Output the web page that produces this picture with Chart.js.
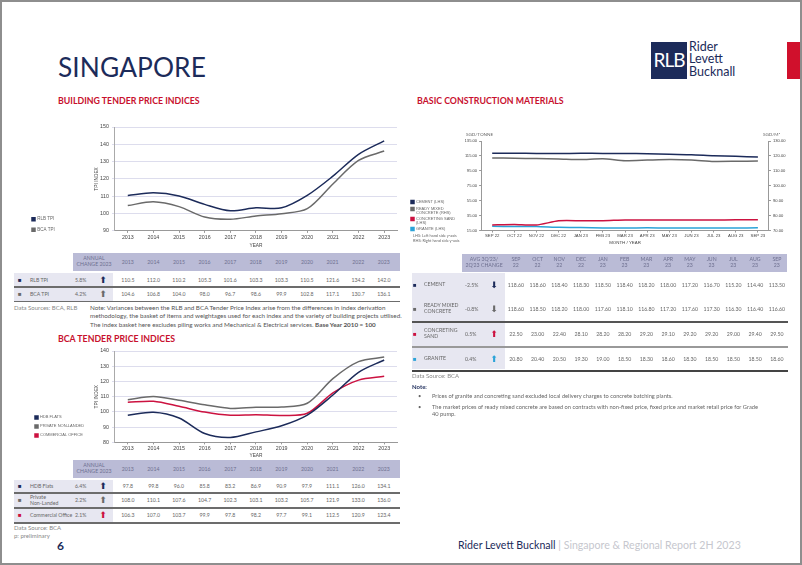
<!DOCTYPE html>
<html lang="en">
<head>
<meta charset="UTF-8">
<title>Singapore</title>
<style>
    html, body { margin: 0; padding: 0; }
    body {
        width: 802px; height: 565px; position: relative; overflow: hidden;
        background: #fff; font-family: 'Lato', 'Liberation Sans', sans-serif; color: #666;
    }
    .abs { position: absolute; }
    .frame { left: 0; top: 0; width: 798px; height: 561px; border: 2px solid #8e8e8e; }
    .country { left: 58px; top: 52px; font-size: 26.3px; color: #1c2b5a; letter-spacing: 0.1px; line-height: 30px; }
    .sect { font-size: 8.8px; font-weight: 700; color: #c8102e; line-height: 10px; white-space: nowrap; }
    .t { font-size: 5.2px; line-height: 6px; white-space: nowrap; color: #666; }
    .c { text-align: center; }
    .hd { color: #6e7090; }
    .note { font-size: 6.3px; line-height: 8.4px; color: #555; white-space: nowrap; }
    canvas { position: absolute; }
</style>
</head>
<body>
<div class="abs frame"></div>

<div class="abs country">SINGAPORE</div>

<!-- logo -->
<div class="abs" style="left:651px;top:42px;width:36px;height:37px;background:#1c2b5a;"></div>
<div class="abs" style="left:651px;top:50px;width:36px;text-align:center;color:#fff;font-size:19px;line-height:20px;letter-spacing:-1px;">RLB</div>
<div class="abs" style="left:689px;top:41px;font-size:12.5px;line-height:12.3px;color:#1c2b5a;">Rider<br>Levett<br>Bucknall</div>
<div class="abs" style="left:787px;top:42px;width:13px;height:37px;background:#d0102c;"></div>

<div class="abs sect" style="left:58px;top:96px;">BUILDING TENDER PRICE INDICES</div>
<div class="abs sect" style="left:417px;top:96px;">BASIC CONSTRUCTION MATERIALS</div>
<div class="abs sect" style="left:58px;top:334px;">BCA TENDER PRICE INDICES</div>

<canvas id="tpi" width="382" height="135" style="left:20px;top:118px;"></canvas>
<canvas id="mat" width="392" height="120" style="left:408px;top:128px;"></canvas>
<canvas id="bca" width="382" height="116" style="left:20px;top:343px;"></canvas>

<div class="abs t" style="left:466px;top:131px;font-size:4.6px;">SGD/TONNE</div>
<div class="abs t" style="left:763px;top:131px;font-size:4.6px;">SGD/M³</div>
<div class="abs t" style="left:413px;top:234px;font-size:3.9px;line-height:4.6px;">LHS: Left hand side y-axis<br>RHS: Right hand side y-axis</div>

<div id="tables"></div>

<div class="abs t" style="left:14px;top:305px;font-size:6px;color:#888;">Data Sources: BCA, RLB</div>
<div class="abs note" style="left:90px;top:304px;">Note: Variances between the RLB and BCA Tender Price Index arise from the differences in index derivation<br>methodology, the basket of items and weightages used for each index and the variety of building projects utilised.<br>The index basket here excludes piling works and Mechanical &amp; Electrical services. <b>Base Year 2010 = 100</b></div>

<div class="abs t" style="left:14px;top:524px;font-size:6px;line-height:8px;color:#888;">Data Source: BCA<br>p: preliminary</div>

<div class="abs t" style="left:412px;top:373px;font-size:6px;color:#888;">Data Source: BCA</div>
<div class="abs t" style="left:412px;top:384px;font-size:6px;font-weight:700;color:#1c2b5a;">Note:</div>
<div class="abs t" style="left:418px;top:393px;font-size:5.7px;">•</div>
<div class="abs t" style="left:432px;top:393px;font-size:5.7px;">Prices of granite and concreting sand excluded local delivery charges to concrete batching plants.</div>
<div class="abs t" style="left:418px;top:404px;font-size:5.7px;">•</div>
<div class="abs t" style="left:432px;top:404px;font-size:5.7px;line-height:6.5px;">The market prices of ready mixed concrete are based on contracts with non-fixed price, fixed price and market retail price for Grade<br>40 pump.</div>

<div class="abs" style="left:57px;top:538px;font-size:12px;font-weight:700;color:#1c2b5a;">6</div>
<div class="abs" style="left:458px;top:539px;font-size:10.6px;white-space:nowrap;color:#1c2b5a;">Rider Levett Bucknall <span style="color:#c6c7ce;">| Singapore &amp; Regional Report 2H 2023</span></div>

<script src="https://cdn.jsdelivr.net/npm/chart.js@4.4.1/dist/chart.umd.min.js"></script>
<script>
// building tender price indices
const tpiYears = ['2013', '2014', '2015', '2016', '2017', '2018', '2019', '2020', '2021', '2022', '2023'];
const rlbTpi = [110.5, 112.0, 110.2, 105.3, 101.6, 103.3, 103.3, 110.5, 121.6, 134.2, 142.0];
const bcaTpi = [104.6, 106.8, 104.0, 98.0, 96.7, 98.6, 99.9, 102.8, 117.1, 130.7, 136.1];
const tpiChange = ['5.8%', '4.2%'];

// bca tender price indices
const hdbFlats = [97.8, 99.8, 96.0, 85.8, 83.2, 86.9, 90.9, 97.9, 111.1, 126.0, 134.1];
const privateNonLanded = [108.0, 110.1, 107.6, 104.7, 102.3, 103.1, 103.2, 105.7, 121.9, 133.0, 136.0];
const commercialOffice = [106.3, 107.0, 103.7, 99.9, 97.8, 98.2, 97.7, 99.1, 112.5, 120.9, 123.4];
const bcaChange = ['6.4%', '2.2%', '2.1%'];

// basic construction materials
const months = ['SEP 22', 'OCT 22', 'NOV 22', 'DEC 22', 'JAN 23', 'FEB 23', 'MAR 23', 'APR 23', 'MAY 23', 'JUN 23', 'JUL 23', 'AUG 23', 'SEP 23'];
const cement = [118.60, 118.60, 118.40, 118.30, 118.50, 118.40, 118.20, 118.00, 117.20, 116.70, 115.20, 114.40, 113.50];
const readyMixed = [118.60, 118.50, 118.20, 118.00, 117.60, 118.10, 116.80, 117.20, 117.60, 117.30, 116.30, 116.40, 116.60];
const concretingSand = [22.50, 23.00, 22.40, 28.10, 28.20, 28.20, 29.20, 29.10, 29.20, 29.20, 29.00, 29.40, 29.50];
const granite = [20.80, 20.40, 20.50, 19.30, 19.00, 18.50, 18.30, 18.60, 18.30, 18.50, 18.50, 18.50, 18.60];
const materialChange = ['-2.5%', '-0.8%', '0.5%', '0.4%'];

const NAVY = '#1c2b5a';
const GREY = '#6a6a6a';
const RED = '#cc1240';
const BLUE = '#2ba3d8';
const HEAD_BG = '#babbd6';
const ROW_BG = '#e7e7f1';

Chart.defaults.font.family = "'Liberation Sans', sans-serif";
Chart.defaults.color = '#555';

// nudges the legend down so it sits beside the bottom of the plot
const legendShift = {
    id: 'legendShift',
    afterLayout(chart, args, opts) {
        const dy = opts.dy || 0;
        chart.legend.top += dy;
        chart.legend.bottom += dy;
    }
};

function line(label, data, color, extra) {
    return Object.assign({
        label: label, data: data, borderColor: color, backgroundColor: color,
        borderWidth: 1.5, pointRadius: 0, tension: 0.3
    }, extra || {});
}

// sizes kept to exact binary fractions so the legend's column check never overflows
function legendOpts(pad, font) {
    return {
        position: 'left', align: 'end', fullSize: false,
        labels: {
            usePointStyle: true, pointStyle: 'rect', boxWidth: 3, boxHeight: 3,
            padding: pad, font: font, color: '#666',
            generateLabels: chart => Chart.defaults.plugins.legend.labels.generateLabels(chart)
                .map(item => Object.assign(item, { text: item.text.indexOf('\n') >= 0 ? item.text.split('\n') : item.text }))
        }
    };
}

// o: yMin, yMax, pad (layout), axisWidth, titlePad, legendPad, legendSize, xTitlePad, shift
function tpiOptions(o) {
    return {
        animation: false, responsive: false,
        layout: { padding: o.pad },
        plugins: {
            legend: legendOpts(o.legendPad, { size: o.legendSize, lineHeight: '5px' }),
            legendShift: { dy: o.shift },
            tooltip: { enabled: false }
        },
        scales: {
            x: {
                offset: true,
                grid: { display: true, drawOnChartArea: false, tickLength: 2, color: '#999' },
                border: { color: '#999' },
                ticks: { font: { size: 5.3 }, color: '#444', padding: 1, maxRotation: 0 },
                title: { display: true, text: 'YEAR', font: { size: 4.8 }, color: '#444', padding: { top: o.xTitlePad, bottom: 0 } }
            },
            y: {
                min: o.yMin, max: o.yMax,
                ticks: { stepSize: 10, font: { size: 5.3 }, color: '#444', padding: 3 },
                grid: { color: '#dddded', tickLength: 3 },
                border: { color: '#aaa' },
                title: { display: true, text: 'TPI INDEX', font: { size: 4.8 }, color: '#444', padding: { top: o.titlePad, bottom: 1 } },
                afterFit: s => { s.width = o.axisWidth; }
            }
        }
    };
}

new Chart(document.getElementById('tpi'), {
    type: 'line',
    data: {
        labels: tpiYears,
        datasets: [line('RLB TPI', rlbTpi, NAVY), line('BCA TPI', bcaTpi, GREY)]
    },
    options: tpiOptions({
        yMin: 90, yMax: 150, pad: { top: 9, right: 5, bottom: 4, left: 6 },
        axisWidth: 50.2, titlePad: 29, legendPad: 6, legendSize: 4.5, xTitlePad: 2, shift: 7
    }),
    plugins: [legendShift]
});

new Chart(document.getElementById('bca'), {
    type: 'line',
    data: {
        labels: tpiYears,
        datasets: [
            line('HDB FLATS', hdbFlats, NAVY),
            line('PRIVATE NON-LANDED', privateNonLanded, GREY),
            line('COMMERCIAL OFFICE', commercialOffice, RED)
        ]
    },
    options: tpiOptions({
        yMin: 80, yMax: 140, pad: { top: 8, right: 5, bottom: 0, left: 10 },
        axisWidth: 20.9, titlePad: 0, legendPad: 5, legendSize: 4, xTitlePad: 0.5, shift: 0
    }),
    plugins: [legendShift]
});

new Chart(document.getElementById('mat'), {
    type: 'line',
    data: {
        labels: months,
        datasets: [
            line('CEMENT (LHS)', cement, NAVY, { tension: 0.2 }),
            line('READY MIXED\nCONCRETE (RHS)', readyMixed, GREY, { tension: 0.2, yAxisID: 'y1' }),
            line('CONCRETING SAND\n(LHS)', concretingSand, RED, { tension: 0.2 }),
            line('GRANITE (LHS)', granite, BLUE, { tension: 0.2 })
        ]
    },
    options: {
        animation: false, responsive: false,
        layout: { padding: { top: 13, right: 12.5, bottom: 3, left: 0 } },
        plugins: {
            legend: legendOpts(3, { size: 4, lineHeight: '3.5px' }),
            legendShift: { dy: 3.5 },
            tooltip: { enabled: false }
        },
        scales: {
            x: {
                offset: true,
                grid: { display: true, drawOnChartArea: false, tickLength: 2, color: '#999' },
                border: { color: '#999' },
                ticks: { font: { size: 4.3 }, color: '#444', padding: 1, maxRotation: 0, autoSkip: false },
                title: { display: true, text: 'MONTH / YEAR', font: { size: 4.4 }, color: '#444', padding: { top: 0, bottom: 0 } }
            },
            y: {
                min: 15, max: 135,
                ticks: { stepSize: 20, font: { size: 4.1 }, color: '#444', padding: 2, callback: v => v.toFixed(2) },
                grid: { display: true, drawOnChartArea: false, tickLength: 2, color: '#999' },
                border: { color: '#999' },
                afterFit: s => { s.width = 16; }
            },
            y1: {
                position: 'right', min: 70, max: 130,
                ticks: { stepSize: 10, font: { size: 4.1 }, color: '#444', padding: 2, callback: v => v.toFixed(2) },
                grid: { display: true, drawOnChartArea: false, tickLength: 2, color: '#999' },
                border: { color: '#999' }
            }
        }
    },
    plugins: [legendShift]
});

// ---- tables ----
const tables = document.getElementById('tables');

function box(x, y, w, h, css) {
    const d = document.createElement('div');
    d.className = 'abs';
    d.style.cssText = `left:${x}px;top:${y}px;width:${w}px;height:${h}px;` + (css || '');
    tables.appendChild(d);
    return d;
}

function text(x, y, w, h, str, cls, css) {
    const d = box(x, y, w, h, 'display:flex;align-items:center;' + (css || ''));
    d.className = 'abs t ' + (cls || '');
    if (cls && cls.indexOf('c') >= 0) d.style.justifyContent = 'center';
    d.innerHTML = str;
    return d;
}

function arrow(x, y, h, up, color) {
    text(x, y, 14, h, up ? '&#x2B06;' : '&#x2B07;', 'c', `font-family:'DejaVu Sans';font-size:9px;color:${color};`);
}

function fmt(v, d) { return v.toFixed(d); }

// table 1 / table 3 share geometry with the year axis
function yearTable(top, rows) {
    const colX = i => 115 + 25.6 * i;
    box(73, top, 327, 18, `background:${HEAD_BG};`);
    text(73, top, 42, 18, 'ANNUAL<br>CHANGE 2023', 'c hd', 'white-space:normal;line-height:5.6px;');
    tpiYears.forEach((yr, i) => text(colX(i), top, 25.6, 18, yr, 'c hd'));
    let y = top + 20;
    rows.forEach(r => {
        box(14, y, 99, r.h, `background:${ROW_BG};`);
        text(18, y, 8, r.h, '&#9632;', '', `color:${r.color};font-size:6px;`);
        text(30, y, 44, r.h, r.label, '', 'white-space:normal;line-height:6px;');
        text(75, y, 16, r.h, r.change);
        arrow(96, y, r.h, true, r.color);
        r.values.forEach((v, i) => text(colX(i), y, 25.6, r.h, fmt(v, 1), 'c'));
        box(14, y + r.h, 386, 1.5, 'background:#6c6c6c;');
        y += r.h + 1.5;
    });
}

yearTable(253, [
    { label: 'RLB TPI', change: tpiChange[0], color: NAVY, values: rlbTpi, h: 13 },
    { label: 'BCA TPI', change: tpiChange[1], color: GREY, values: bcaTpi, h: 13 }
]);

yearTable(460, [
    { label: 'HDB Flats', change: bcaChange[0], color: NAVY, values: hdbFlats, h: 12 },
    { label: 'Private<br>Non-Landed', change: bcaChange[1], color: GREY, values: privateNonLanded, h: 13.5 },
    { label: 'Commercial Office', change: bcaChange[2], color: RED, values: commercialOffice, h: 13.5 }
]);

// table 2, materials
(function () {
    const top = 254, colW = 21.75, colX = i => 505 + colW * i;
    box(462, top, 325, 18, `background:${HEAD_BG};`);
    text(462, top, 44, 18, "AVG 3Q'23/<br>2Q'23 CHANGE", 'c hd', 'white-space:normal;line-height:5.6px;');
    months.forEach((m, i) => text(colX(i), top, colW, 18, m.replace(' ', '<br>'), 'c hd', 'line-height:5.6px;'));
    const rows = [
        { label: 'CEMENT', change: materialChange[0], up: false, color: NAVY, values: cement, h: 23, line: null },
        { label: 'READY MIXED<br>CONCRETE', change: materialChange[1], up: false, color: GREY, values: readyMixed, h: 24, line: '#555' },
        { label: 'CONCRETING<br>SAND', change: materialChange[2], up: true, color: RED, values: concretingSand, h: 24, line: '#999' },
        { label: 'GRANITE', change: materialChange[3], up: true, color: BLUE, values: granite, h: 23, line: '#444' }
    ];
    let y = top + 19;
    box(412, y, 93, 96, `background:${ROW_BG};`);
    rows.forEach(r => {
        text(413, y, 8, r.h, '&#9632;', '', `color:${r.color};font-size:6px;`);
        text(424, y, 42, r.h, r.label, '', 'line-height:5.8px;');
        text(465, y, 16, r.h, r.change);
        arrow(487, y, r.h, r.up, r.color);
        r.values.forEach((v, i) => text(colX(i), y, colW, r.h, fmt(v, 2), 'c'));
        if (r.line) box(412, y + r.h, 376, 1.5, `background:${r.line};`);
        y += r.h + 1;
    });
})();
</script>
</body>
</html>
